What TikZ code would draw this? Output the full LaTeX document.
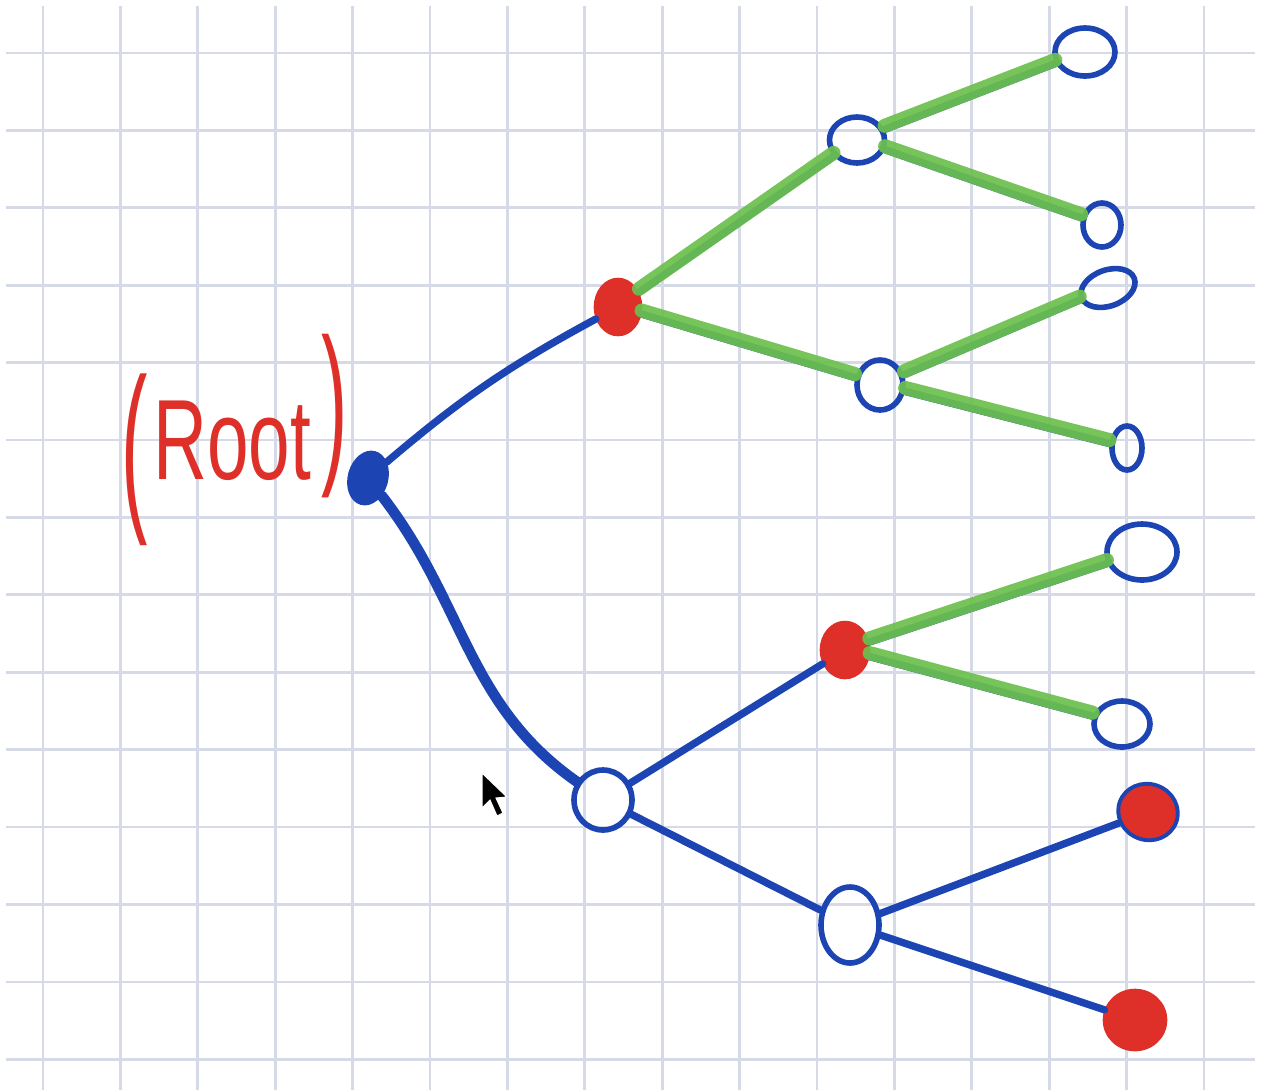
\documentclass[tikz,border=0pt]{standalone}
\usepackage{fontspec}
\setmainfont{Liberation Sans}
\usetikzlibrary{shapes.geometric}
\definecolor{penblue}{RGB}{28,68,178}
\definecolor{penred}{RGB}{222,48,40}
\definecolor{pengreen}{RGB}{108,192,78}
\definecolor{gridc}{RGB}{214,217,230}
\begin{document}
\begin{tikzpicture}[x=0.02cm,y=-0.02cm,
  gridline/.style={gridc,line width=1.5pt},
  opennode/.style={ellipse,draw=penblue,line width=3.2pt,inner sep=0pt},
  rednode/.style={ellipse,draw=penred,fill=penred,line width=1.5pt,inner sep=0pt},
  rootnode/.style={ellipse,draw=penblue,fill=penblue,line width=1.5pt,inner sep=0pt},
  blueedge/.style={penblue,line width=4.2pt,line cap=round},
  thickedge/.style={penblue,line width=6pt,line cap=round},
  greenedge/.style={pengreen,line width=8pt,line cap=round,opacity=0.92},
  lbl/.style={text=penred,inner sep=0pt}
]
% background / bounding box
\fill[white] (0,0) rectangle (1261,1090);
\useasboundingbox (0,0) rectangle (1261,1090);
% grid
\foreach \k in {0,...,15} { \draw[gridline] ({43+77.4*\k},6) -- ({43+77.4*\k},1090); }
\foreach \k in {0,...,13} { \draw[gridline] (6,{53+77.4*\k}) -- (1255,{53+77.4*\k}); }

% nodes
\node[rootnode,minimum width=0.76cm,minimum height=1.06cm,rotate=-15] (root) at (368,478) {};
\node[rednode,minimum width=0.92cm,minimum height=1.12cm] (A) at (618,307) {};
\node[opennode,minimum width=1.16cm,minimum height=1.2cm] (B) at (603,800) {};
\node[opennode,minimum width=1.1cm,minimum height=0.92cm] (A1) at (857,140) {};
\node[opennode,minimum width=0.92cm,minimum height=1.0cm] (A2) at (880,385) {};
\node[opennode,minimum width=1.2cm,minimum height=0.96cm] (L1) at (1085,52) {};
\node[opennode,minimum width=0.76cm,minimum height=0.88cm] (L2) at (1102,225) {};
\node[opennode,minimum width=1.12cm,minimum height=0.72cm,rotate=20] (L3) at (1108,288) {};
\node[opennode,minimum width=0.6cm,minimum height=0.88cm] (L4) at (1127,448) {};
\node[rednode,minimum width=0.96cm,minimum height=1.12cm] (B1) at (845,650) {};
\node[opennode,minimum width=1.16cm,minimum height=1.52cm] (B2) at (850,925) {};
\node[opennode,minimum width=1.4cm,minimum height=1.12cm] (L5) at (1142,552) {};
\node[opennode,minimum width=1.12cm,minimum height=0.92cm] (L6) at (1122,724) {};
\node[rednode,draw=penblue,line width=2.2pt,minimum width=1.2cm,minimum height=1.12cm,rotate=-20] (L7) at (1148,812) {};
\node[rednode,minimum width=1.24cm,minimum height=1.2cm] (L8) at (1135,1020) {};

% blue edges
\draw[blueedge] (root) to[bend left=6] (A);
\draw[thickedge] (root) to[out=-50,in=145] (B);
\draw[blueedge] (A) -- (A1);
\draw[blueedge] (A) -- (A2);
\draw[blueedge] (A1) -- (L1);
\draw[blueedge] (A1) -- (L2);
\draw[blueedge] (A2) -- (L3);
\draw[blueedge] (A2) -- (L4);
\draw[blueedge] (B) -- (B1);
\draw[blueedge] (B) -- (B2);
\draw[blueedge] (B1) -- (L5);
\draw[blueedge] (B1) -- (L6);
\draw[blueedge] (B2) -- (L7);
\draw[blueedge] (B2) -- (L8);

% green highlights
\begin{scope}[transform canvas={yshift=2pt}]
\draw[greenedge] (A) -- (A1);
\draw[greenedge] (A) -- (A2);
\draw[greenedge] (A1) -- (L1);
\draw[greenedge] (A1) -- (L2);
\draw[greenedge] (A2) -- (L3);
\draw[greenedge] (A2) -- (L4);
\draw[greenedge] (B1) -- (L5);
\draw[greenedge] (B1) -- (L6);
\end{scope}

% label
\node[lbl,font=\fontsize{50}{50}\selectfont] (rootlbl) at (235,440)
  {\raisebox{-16pt}{\scalebox{0.9}[2.1]{(}}\hspace{3pt}\scalebox{0.85}[1.3]{Root}\hspace{6pt}\raisebox{10pt}{\scalebox{0.9}[2.0]{)}}};

% mouse cursor
\filldraw[fill=black,draw=white,line width=0.6pt]
  (482,773) -- (482,808) -- (490,800) -- (497,816) -- (503,813) -- (496,798) -- (507,797) -- cycle;
\end{tikzpicture}
\end{document}
